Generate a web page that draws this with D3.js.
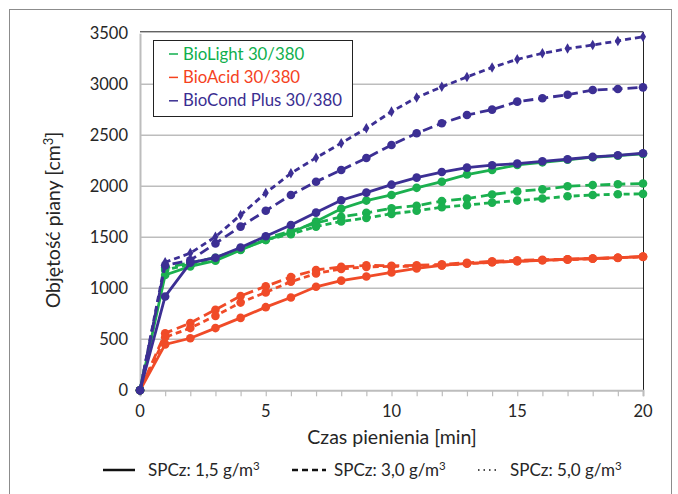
<!DOCTYPE html>
<html><head><meta charset="utf-8">
<script src="https://cdn.jsdelivr.net/npm/d3@7"></script>
<style>body{margin:0;background:#fff}svg{display:block}text{font-family:Lato,"Open Sans",sans-serif}</style>
</head><body><svg id="c" width="678" height="494"></svg>
<script>
const times = d3.range(0, 21);
const yTicks = [0, 500, 1000, 1500, 2000, 2500, 3000, 3500];
const xTicks = [0, 5, 10, 15, 20];
const products = ["BioLight 30/380", "BioAcid 30/380", "BioCond Plus 30/380"];
const concLabels = ["SPCz: 1,5 g/m", "SPCz: 3,0 g/m", "SPCz: 5,0 g/m"];

const bioLight15 = [0,1130,1215,1270,1375,1475,1545,1655,1780,1860,1915,1985,2045,2115,2160,2210,2235,2260,2285,2300,2318];
const bioLight30 = [0,1200,1250,1300,1390,1490,1560,1640,1700,1740,1785,1810,1855,1880,1920,1950,1970,2000,2012,2020,2028];
const bioLight50 = [0,1180,1235,1285,1380,1475,1530,1605,1655,1690,1730,1760,1795,1815,1840,1860,1880,1902,1914,1922,1926];
const bioAcid15 = [0,450,510,610,710,815,910,1015,1075,1115,1155,1195,1225,1245,1255,1265,1275,1285,1292,1300,1310];
const bioAcid30 = [0,560,660,790,925,1020,1110,1180,1210,1225,1220,1225,1235,1250,1265,1275,1280,1285,1292,1300,1312];
const bioAcid50 = [0,520,610,730,860,960,1065,1145,1190,1210,1215,1215,1225,1240,1255,1265,1275,1280,1290,1298,1308];
const bioCond15 = [0,920,1250,1300,1400,1510,1620,1742,1863,1938,2016,2085,2140,2183,2207,2222,2245,2265,2288,2304,2324];
const bioCond30 = [0,1225,1275,1440,1605,1760,1915,2045,2160,2277,2405,2520,2618,2699,2752,2830,2863,2898,2944,2954,2970];
const bioCond50 = [0,1255,1345,1505,1719,1935,2127,2280,2423,2569,2732,2870,2975,3072,3165,3245,3304,3350,3385,3425,3467];

const colors = ["#1BB04F", "#F04B28", "#3C2F94"];
const legendColors = ["#10AF4E", "#F5421E", "#3A2E91"];
const dashes = [null, "10,5", "6,4"];

const series = [
  {p:0,c:0,v:bioLight15},{p:0,c:1,v:bioLight30},{p:0,c:2,v:bioLight50},
  {p:1,c:0,v:bioAcid15},{p:1,c:1,v:bioAcid30},{p:1,c:2,v:bioAcid50},
  {p:2,c:0,v:bioCond15},{p:2,c:1,v:bioCond30},{p:2,c:2,v:bioCond50}
];

const svg = d3.select("#c");
const x = d3.scaleLinear().domain([0,20]).range([140,643]);
const y = d3.scaleLinear().domain([0,3500]).range([390.3,33.3]);

// outer frame
svg.append("rect").attr("x",9.5).attr("y",9.5).attr("width",662).attr("height",520)
  .attr("fill","none").attr("stroke","#8c8c8c").attr("stroke-width",1);

// gridlines
svg.append("g").selectAll("line").data(yTicks.filter(d=>d>0 && d<3500)).join("line")
  .attr("x1",x(0)).attr("x2",x(20)).attr("y1",d=>y(d)).attr("y2",d=>y(d))
  .attr("stroke","#bdbdbd").attr("stroke-width",1.5);

// plot border top/right
svg.append("line").attr("x1",x(0)).attr("x2",x(20)).attr("y1",y(3500)-1.5).attr("y2",y(3500)-1.5).attr("stroke","#222").attr("stroke-width",1);
svg.append("line").attr("x1",x(20)+0.5).attr("x2",x(20)+0.5).attr("y1",y(3500)-1.5).attr("y2",y(0)).attr("stroke","#222").attr("stroke-width",1);

// x axis
const xAxis = svg.append("g").attr("transform",`translate(0,${y(0)})`)
  .call(d3.axisBottom(x).tickValues(d3.range(0,21)).tickSize(6).tickFormat(""));
xAxis.select(".domain").attr("stroke","#bdbdbd").attr("stroke-width",2);
xAxis.selectAll(".tick line").attr("stroke","#bdbdbd").attr("stroke-width",1.2);
svg.append("g").selectAll("text").data(xTicks).join("text")
  .attr("x",d=>x(d)).attr("y",417).attr("text-anchor","middle")
  .attr("font-size",16.5).attr("fill","#262626").text(d=>d);

// y axis
const yAxis = svg.append("g").attr("transform",`translate(${x(0)},0)`)
  .call(d3.axisLeft(y).tickValues(yTicks).tickSize(0).tickFormat(""));
yAxis.select(".domain").attr("stroke","#bdbdbd").attr("stroke-width",2);
svg.append("g").selectAll("text").data(yTicks).join("text")
  .attr("x",128).attr("y",d=>y(d)+5.5).attr("text-anchor","end")
  .attr("font-size",16.5).attr("fill","#262626").text(d=>d);

// axis titles
svg.append("text").attr("x",392).attr("y",444).attr("text-anchor","middle")
  .attr("font-size",19.5).attr("fill","#262626").text("Czas pienienia [min]");
const yt = svg.append("text").attr("transform","translate(60,220) rotate(-90)")
  .attr("text-anchor","middle").attr("font-size",19.5).attr("fill","#262626");
yt.append("tspan").text("Objętość piany [cm");
yt.append("tspan").attr("dy",-7).attr("font-size",13).text("3");
yt.append("tspan").attr("dy",7).text("]");

// lines
const line = d3.line().x((d,i)=>x(times[i])).y(d=>y(d));
const order = [3,4,5,0,1,2,6,7,8];
order.forEach(k=>{
  const s = series[k];
  const g = svg.append("g");
  g.append("path").datum(s.v).attr("d",line).attr("fill","none")
    .attr("stroke",colors[s.p]).attr("stroke-width",2.8)
    .attr("stroke-dasharray",dashes[s.c]);
  if (s.p===2 && s.c===2) {
    g.selectAll("path.m").data(s.v).join("path").attr("class","m")
      .attr("d",d3.symbol(d3.symbolDiamond,32))
      .attr("transform",(d,i)=>`translate(${x(times[i])},${y(d)})`)
      .attr("fill",colors[s.p]);
  } else {
    g.selectAll("circle").data(s.v).join("circle")
      .attr("cx",(d,i)=>x(times[i])).attr("cy",d=>y(d)).attr("r",4.3)
      .attr("fill",colors[s.p]);
  }
});

// legend box
svg.append("rect").attr("x",153.5).attr("y",40.5).attr("width",199).attr("height",76)
  .attr("fill","#fff").attr("stroke","#222").attr("stroke-width",1);
products.forEach((p,i)=>{
  const yy = 59.5 + i*23.4;
  svg.append("line").attr("x1",169).attr("x2",178).attr("y1",yy-5.5).attr("y2",yy-5.5)
    .attr("stroke",legendColors[i]).attr("stroke-width",1.5);
  svg.append("text").attr("x",183).attr("y",yy).attr("font-size",16.8)
    .attr("fill",legendColors[i]).text(p);
});

// bottom legend
const bl = [{x1:103,x2:135,tx:148},{x1:292,x2:326,tx:334},{x1:478,x2:500,tx:510}];
const blDash = [null,"6,4","1.5,4"];
bl.forEach((b,i)=>{
  svg.append("line").attr("x1",b.x1).attr("x2",b.x2).attr("y1",470).attr("y2",470)
    .attr("stroke","#111").attr("stroke-width",i===2?1.5:2.5).attr("stroke-dasharray",blDash[i]);
  const t = svg.append("text").attr("x",b.tx).attr("y",476).attr("font-size",17).attr("fill","#262626");
  t.append("tspan").text(concLabels[i]);
  t.append("tspan").attr("dy",-6.5).attr("font-size",11.5).text("3");
});
</script></body></html>
